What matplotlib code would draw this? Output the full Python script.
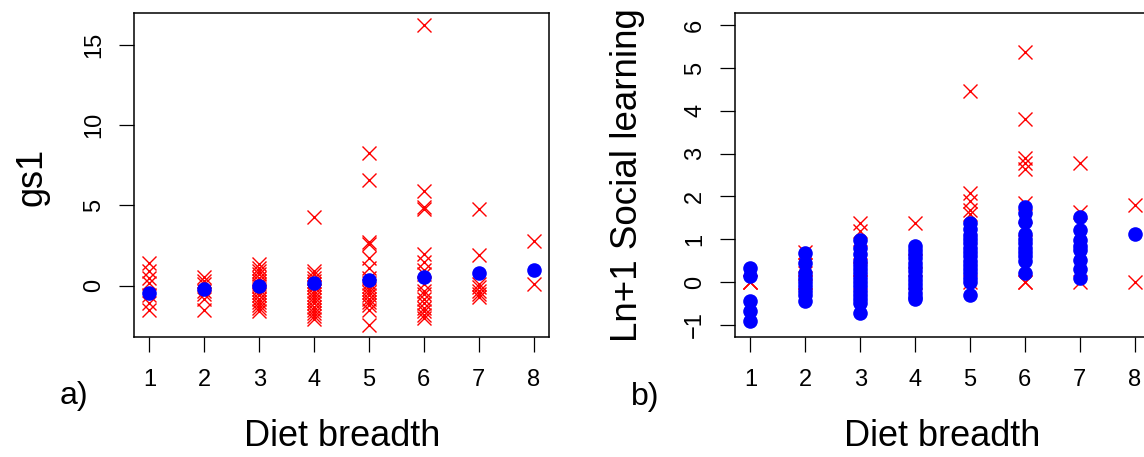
import matplotlib
matplotlib.use("Agg")
import matplotlib.pyplot as plt

plt.rcParams['font.family'] = ['Liberation Sans', 'DejaVu Sans']

diet = [1, 2, 3, 4, 5, 6, 7, 8]

# panel a) observed gs1 values (red crosses) per diet breadth
gs1_obs = {
    1: [1.4, 0.9, 0.5, 0.2, -0.6, -1.1, -1.5],
    2: [0.55, 0.3, 0.1, -0.3, -0.5, -0.8, -1.5],
    3: [1.35, 1.1, 0.9, 0.7, 0.5, 0.3, 0.1, 0.0, -0.2, -0.4, -0.6, -0.8,
        -1.0, -1.2, -1.4, -1.55],
    4: [4.25, 0.9, 0.7, 0.5, 0.3, 0.1, -0.1, -0.3, -0.5, -0.7, -0.9, -1.1,
        -1.3, -1.5, -1.7, -1.9, -2.1],
    5: [8.25, 6.6, 2.7, 2.6, 1.7, 1.1, 0.5, 0.2, 0.0, -0.2, -0.4, -0.6,
        -0.8, -1.0, -1.2, -1.5, -2.45],
    6: [16.2, 5.9, 4.9, 4.75, 2.0, 1.45, 1.0, 0.7, 0.1, -0.3, -0.5, -0.8,
        -1.1, -1.4, -1.6, -1.8, -2.0],
    7: [4.8, 1.9, 0.1, -0.1, -0.3, -0.5, -0.7],
    8: [2.8, 0.1],
}
# panel a) fitted values (blue dots)
gs1_fit = [-0.43, -0.23, -0.02, 0.17, 0.35, 0.56, 0.77, 0.98]

# panel b) observed ln+1 social learning (red crosses)
sl_obs = {
    1: [0.0, 0.0, 0.0],
    2: [0.7, 0.4, 0.2, 0.0, 0.0],
    3: [1.38, 1.2, 0.7, 0.3, 0.0],
    4: [1.38, 0.5, 0.0],
    5: [4.46, 2.08, 1.9, 1.68, 1.6, 0.0],
    6: [5.37, 3.82, 2.9, 2.78, 2.63, 1.85, 1.25, 0.0, 0.0],
    7: [2.78, 1.64, 0.0],
    8: [1.8, 0.0],
}
# panel b) predicted values (blue dots)
sl_pred = {
    1: [0.33, 0.14, -0.44, -0.67, -0.9],
    2: [0.68, 0.44, 0.2, 0.1, 0.0, -0.1, -0.2, -0.3, -0.44],
    3: [0.97, 0.8, 0.65, 0.5, 0.4, 0.3, 0.2, 0.1, 0.0, -0.1, -0.2, -0.3,
        -0.4, -0.5, -0.72],
    4: [0.85, 0.75, 0.65, 0.55, 0.45, 0.35, 0.25, 0.15, 0.05, -0.05,
        -0.15, -0.25, -0.35, -0.4],
    5: [1.38, 1.25, 1.1, 1.0, 0.9, 0.8, 0.7, 0.6, 0.5, 0.4, 0.3, 0.2,
        0.1, 0.0, -0.3],
    6: [1.75, 1.62, 1.4, 1.12, 1.0, 0.9, 0.8, 0.7, 0.6, 0.5, 0.2],
    7: [1.53, 1.21, 0.98, 0.85, 0.75, 0.51, 0.3, 0.1],
    8: [1.11],
}

W, H = 1144, 457
fig = plt.figure(figsize=(W / 100, H / 100), dpi=100)


def flat(d):
    xs, ys = [], []
    for k in diet:
        xs += [k] * len(d[k])
        ys += d[k]
    return xs, ys


def style(ax, yticks):
    ax.set_xlim(0.72, 8.28)
    ax.set_xticks(diet)
    ax.set_yticks(yticks)
    ax.tick_params(axis='both', direction='out', length=10.8, width=0.9,
                   labelsize=17)
    ax.tick_params(axis='x', pad=12.5)
    ax.tick_params(axis='y', pad=10, labelrotation=90)
    for s in ax.spines.values():
        s.set_linewidth(1.1)


# a)
ax1 = fig.add_axes([134 / W, 120 / H, 415 / W, 324 / H])
x, y = flat(gs1_obs)
ax1.plot(x, y, 'x', color='#ff0000', ms=9.5, mew=1.0, zorder=2)
ax1.plot(diet, gs1_fit, 'o', color='#0000ff', ms=10.5, mec='none', zorder=3)
ax1.set_ylim(-3.19, 16.97)
style(ax1, [0, 5, 10, 15])
ax1.set_yticklabels(['0', '5', '10', '15'], va='center')

# b)
ax2 = fig.add_axes([735 / W, 120 / H, 415 / W, 324 / H])
x, y = flat(sl_obs)
ax2.plot(x, y, 'x', color='#ff0000', ms=9.5, mew=1.0, zorder=2)
x, y = flat(sl_pred)
ax2.plot(x, y, 'o', color='#0000ff', ms=10.5, mec='none', zorder=3)
ax2.set_ylim(-1.285, 6.285)
style(ax2, [-1, 0, 1, 2, 3, 4, 5, 6])
ax2.set_yticklabels(['\u22121', '0', '1', '2', '3', '4', '5', '6'], va='center')

# labels
fig.text(32 / W, 1 - 177 / H, 'gs1', rotation=90, ha='center', va='center', fontsize=26)
fig.text(627 / W, 1 - 175 / H, 'Ln+1 Social learning', rotation=90, ha='center',
         va='center', fontsize=26.5)
fig.text(342 / W, 1 - 437 / H, 'Diet breadth', ha='center', va='center', fontsize=26)
fig.text(942 / W, 1 - 437 / H, 'Diet breadth', ha='center', va='center', fontsize=26)
fig.text(74 / W, 1 - 396 / H, 'a)', ha='center', va='center', fontsize=23)
fig.text(645 / W, 1 - 397 / H, 'b)', ha='center', va='center', fontsize=23)

fig.savefig('out.png', dpi=100)
